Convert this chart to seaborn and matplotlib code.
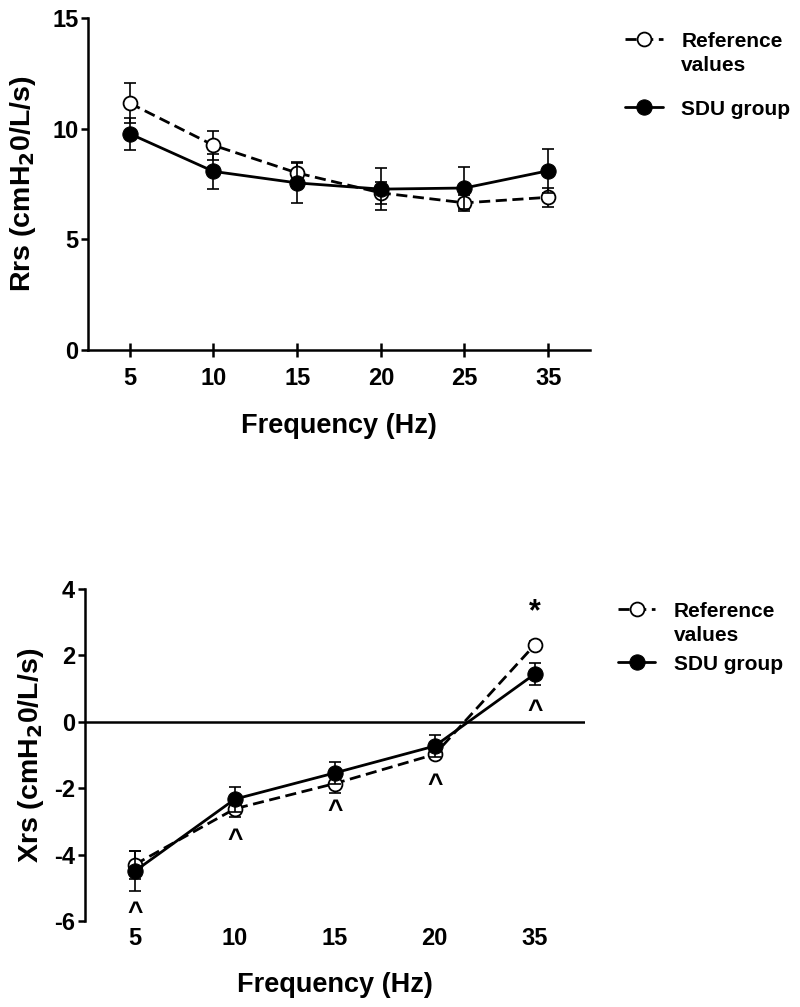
import numpy as np
import matplotlib
matplotlib.use("Agg")
import matplotlib.pyplot as plt
import seaborn as sns

# Respiratory resistance (Rrs) by frequency
rrs_freq = ['5', '10', '15', '20', '25', '35']
rrs_ref = [11.15, 9.25, 8.0, 7.1, 6.65, 6.9]
rrs_ref_err = [0.9, 0.65, 0.5, 0.5, 0.37, 0.42]
rrs_sdu = [9.77, 8.07, 7.55, 7.27, 7.32, 8.1]
rrs_sdu_err = [0.73, 0.78, 0.9, 0.95, 0.93, 1.0]

# Respiratory reactance (Xrs) by frequency
xrs_freq = ['5', '10', '15', '20', '35']
xrs_ref = [-4.3, -2.62, -1.86, -0.98, 2.32]
xrs_ref_err = [0.42, 0.25, 0.28, 0.12, 0.1]
xrs_sdu = [-4.5, -2.33, -1.54, -0.73, 1.44]
xrs_sdu_err = [0.6, 0.38, 0.33, 0.33, 0.33]

# significance marks on the Xrs panel
caret_freq = ['5', '10', '15', '20', '35']
caret_y = [-5.77, -3.55, -2.7, -1.89, 0.33]
star_freq = ['35']
star_y = [3.3]

sns.set_style("ticks")
plt.rcParams['font.family'] = ['Liberation Sans', 'DejaVu Sans']
plt.rcParams['font.weight'] = 'bold'
plt.rcParams['axes.labelweight'] = 'bold'
plt.rcParams['axes.unicode_minus'] = False
plt.rcParams['text.color'] = 'black'
plt.rcParams['axes.labelcolor'] = 'black'
plt.rcParams['xtick.color'] = 'black'
plt.rcParams['ytick.color'] = 'black'
plt.rcParams['axes.edgecolor'] = 'black'

fig = plt.figure(figsize=(8, 10.07), dpi=100)
ax1 = fig.add_axes([0.11, 0.6524, 0.6275, 0.3297])
ax2 = fig.add_axes([0.106, 0.0854, 0.625, 0.3297])


def draw_series(ax, freq, ref, ref_err, sdu, sdu_err, leg_x, leg_y, spacing):
    pos = np.arange(len(freq))
    ax.errorbar(pos, ref, yerr=ref_err, fmt='none', ecolor='black',
                elinewidth=1.2, capsize=4.5, capthick=1.2, zorder=2)
    sns.lineplot(x=pos, y=ref, ax=ax, color='black', lw=2,
                 linestyle=(0, (4, 2)), marker='o', markersize=10,
                 markerfacecolor='white', markeredgecolor='black',
                 markeredgewidth=1.3, zorder=3)
    h_ref = ax.lines[-1]
    ax.errorbar(pos, sdu, yerr=sdu_err, fmt='none', ecolor='black',
                elinewidth=1.2, capsize=4.5, capthick=1.2, zorder=4)
    sns.lineplot(x=pos, y=sdu, ax=ax, color='black', lw=2,
                 marker='o', markersize=11, markerfacecolor='black',
                 markeredgecolor='black', zorder=5)
    h_sdu = ax.lines[-1]
    ax.set_xticks(pos)
    ax.set_xticklabels(freq)
    ax.set_xlim(-0.5, len(freq) - 0.5)
    leg = ax.legend([h_ref, h_sdu], ['Reference\nvalues', 'SDU group'],
                    loc='upper left', bbox_to_anchor=(leg_x, leg_y),
                    frameon=False, fontsize=15, handlelength=1.8,
                    handletextpad=0.9, labelspacing=spacing, numpoints=1,
                    borderpad=0, borderaxespad=0)
    leg.texts[0].set_linespacing(1.35)
    # keep the handle level with the first text line
    try:
        for row in leg._legend_handle_box.get_children()[0].get_children():
            row.align = 'top'
    except AttributeError:
        pass


# --- top panel: Rrs ---
draw_series(ax1, rrs_freq, rrs_ref, rrs_ref_err, rrs_sdu, rrs_sdu_err,
            1.07, 0.958, 1.18)
ax1.set_ylim(0, 15)
ax1.set_yticks([0, 5, 10, 15])
sns.despine(ax=ax1)
for s in ['left', 'bottom']:
    ax1.spines[s].set_linewidth(1.8)
ax1.tick_params(axis='x', direction='inout', length=10, width=1.8,
                labelsize=17, pad=7)
ax1.tick_params(axis='y', direction='out', length=5, width=1.8,
                labelsize=17, pad=2)
ax1.set_xlabel('Frequency (Hz)', fontsize=19.5, labelpad=17)
ax1.set_ylabel(r'Rrs (cmH$_\mathbf{2}$0/L/s)', fontsize=20.5, labelpad=10)

# --- bottom panel: Xrs ---
draw_series(ax2, xrs_freq, xrs_ref, xrs_ref_err, xrs_sdu, xrs_sdu_err,
            1.066, 0.961, 0.47)
ax2.set_ylim(-6, 4)
ax2.set_yticks([-6, -4, -2, 0, 2, 4])
ax2.axhline(0, color='black', lw=1.8, zorder=1)
sns.despine(ax=ax2, bottom=True)
ax2.spines['left'].set_linewidth(1.8)
ax2.tick_params(axis='x', length=0, labelsize=17, pad=4)
ax2.tick_params(axis='y', direction='out', length=5, width=1.8,
                labelsize=17, pad=2)
ax2.set_xlabel('Frequency (Hz)', fontsize=19.5, labelpad=16)
ax2.set_ylabel(r'Xrs (cmH$_\mathbf{2}$0/L/s)', fontsize=20.5, labelpad=6)

for f, y in zip(caret_freq, caret_y):
    ax2.text(xrs_freq.index(f), y, '^', ha='center', va='center',
             fontsize=19, fontweight='bold')
for f, y in zip(star_freq, star_y):
    ax2.text(xrs_freq.index(f), y, '*', ha='center', va='center',
             fontsize=22, fontweight='bold')

fig.savefig('out.png', dpi=100)
